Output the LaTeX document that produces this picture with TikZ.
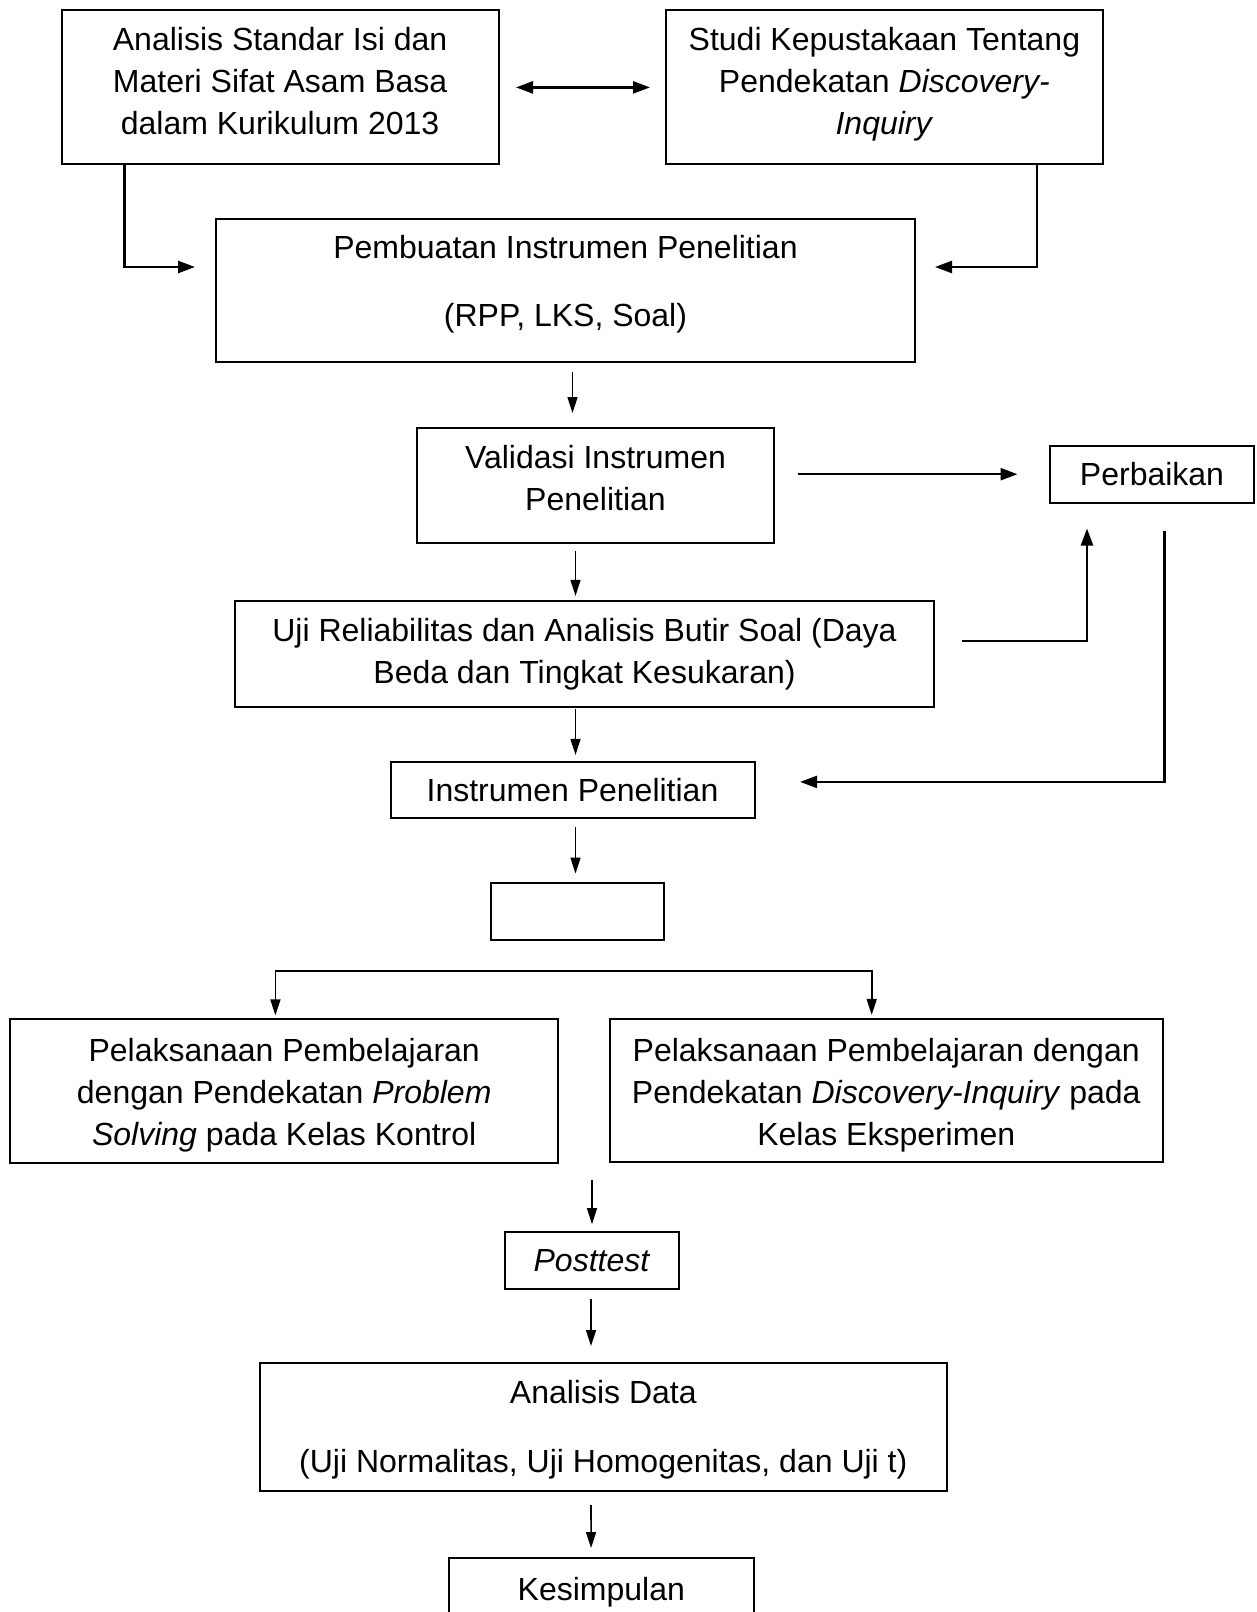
\documentclass[tikz,border=0pt]{standalone}
\usepackage{fontspec}
\setmainfont{Liberation Sans}
\usetikzlibrary{positioning, arrows.meta}

\begin{document}
\begin{tikzpicture}[>={Triangle[length=8pt,width=5pt]}, line width=0.8pt, font=\fontsize{16}{21}\selectfont]

\tikzstyle{block} = [
    rectangle,
    draw,
    line width=1pt,
    inner sep=0pt,
    outer sep=0pt,
    align=center
];
\tikzstyle{tebal} = [
    line width=1.2pt,
    >={Triangle[length=8.5pt,width=6pt]}
];

\useasboundingbox (0,0) rectangle (628.5pt,-806pt);

\node[block, minimum width=218.4pt, minimum height=77pt, text depth=6.5pt] (analisis) at (140.05pt,-43.7pt) {Analisis Standar Isi dan\\Materi Sifat Asam Basa\\dalam Kurikulum 2013};
\node[block, minimum width=218.4pt, minimum height=77pt, text depth=6.4pt, right=83.75pt of analisis] (studi) {Studi Kepustakaan Tentang\\Pendekatan \textit{Discovery-}\\\textit{Inquiry}};
\node[block, minimum width=349.5pt, minimum height=71.5pt, text depth=9.5pt, below=27.3pt of analisis, xshift=142.7pt] (pembuatan) {Pembuatan Instrumen Penelitian\\[13.4pt](RPP, LKS, Soal)};
\node[block, minimum width=178.5pt, minimum height=57.5pt, text depth=7pt, below=32.8pt of pembuatan, xshift=15pt] (validasi) {Validasi Instrumen\\Penelitian};
\node[block, minimum width=102pt, minimum height=28.3pt, right=138pt of validasi, yshift=5.45pt] (perbaikan) {Perbaikan};
\node[block, minimum width=349.5pt, minimum height=53pt, below=29.15pt of validasi, xshift=-5.5pt] (uji) {Uji Reliabilitas dan Analisis Butir Soal (Daya\\Beda dan Tingkat Kesukaran)};
\node[block, minimum width=182pt, minimum height=28.2pt, below=27.3pt of uji, xshift=-6pt] (instrumen) {Instrumen Penelitian};
\node[block, minimum width=86.5pt, minimum height=28.5pt, below=32.5pt of instrumen, xshift=2.5pt] (kosong) {};
\node[block, minimum width=274pt, minimum height=72pt, text height=57.5pt, below=39.75pt of kosong, xshift=-146.65pt] (kontrol) {Pelaksanaan Pembelajaran\\dengan Pendekatan \textit{Problem}\\\textit{Solving} pada Kelas Kontrol};
\node[block, minimum width=276.5pt, minimum height=71.5pt, text height=58pt, right=25.75pt of kontrol, yshift=0.5pt] (eksperimen) {Pelaksanaan Pembelajaran dengan\\Pendekatan \textit{Discovery-Inquiry} pada\\Kelas Eksperimen};
\node[block, minimum width=87.4pt, minimum height=28.4pt, below=34.4pt of kontrol, xshift=153.9pt] (posttest) {\textit{Posttest}};
\node[block, minimum width=343.3pt, minimum height=64pt, text height=49pt, below=37pt of posttest, xshift=5.65pt] (analisisdata) {Analisis Data\\[13.4pt](Uji Normalitas, Uji Homogenitas, dan Uji t)};
\node[block, minimum width=152.2pt, minimum height=28.5pt, text height=17.5pt, below=33.5pt of analisisdata, xshift=-1pt] (kesimpulan) {Kesimpulan};

\coordinate[below=15.5pt of kosong] (cabang);
\coordinate[above=26pt of posttest] (gabung);

% baris atas
\draw[tebal, <->, shorten <=8.75pt, shorten >=8pt] (analisis) -- (studi);
\draw[tebal, ->] ([xshift=31.35pt]analisis.south west) |- ([xshift=-10.5pt, yshift=11.75pt]pembuatan.west);
\draw[tebal, ->] ([xshift=-33pt]studi.south east) |- ([xshift=10pt, yshift=11.75pt]pembuatan.east);

% alur utama
\draw[->, shorten <=5pt, shorten >=7.3pt] ([xshift=3.5pt]pembuatan.south) -- ([xshift=-11.5pt]validasi.north);
\draw[->, shorten <=4pt, shorten >=2.5pt] ([xshift=-10pt]validasi.south) -- ([xshift=-4.5pt]uji.north);
\draw[->, shorten <=1pt, shorten >=3.3pt] ([xshift=-4.5pt]uji.south) -- ([xshift=1.5pt]instrumen.north);
\draw[->, shorten <=4.5pt, shorten >=4.7pt] ([xshift=1.5pt]instrumen.south) -- ([xshift=-1pt]kosong.north);

% perbaikan
\draw[tebal, ->, shorten <=11.8pt, shorten >=16.25pt] (validasi.east |- perbaikan) -- (perbaikan);
\draw[tebal, ->] ([xshift=14pt, yshift=6.5pt]uji.east) -| ([xshift=18.5pt, yshift=-13pt]perbaikan.south west);
\draw[tebal, ->] ([xshift=6.25pt, yshift=-14pt]perbaikan.south) |- ([xshift=22.8pt, yshift=3.9pt]instrumen.east);

% cabang kelas
\draw[<->, shorten <=2pt, shorten >=2pt] ([xshift=-4.4pt]kontrol.north) |- (cabang) -| ([xshift=-7.25pt]eksperimen.north);

% alur akhir
\draw[->, shorten >=4pt] (gabung) -- (posttest);
\draw[->, shorten <=5pt, shorten >=8.5pt] ([xshift=-0.5pt]posttest.south) -- ([xshift=-6.15pt]analisisdata.north);
\draw[->, shorten <=7pt, shorten >=5pt] ([xshift=-6.15pt]analisisdata.south) -- ([xshift=-5.1pt]kesimpulan.north);

\end{tikzpicture}
\end{document}
